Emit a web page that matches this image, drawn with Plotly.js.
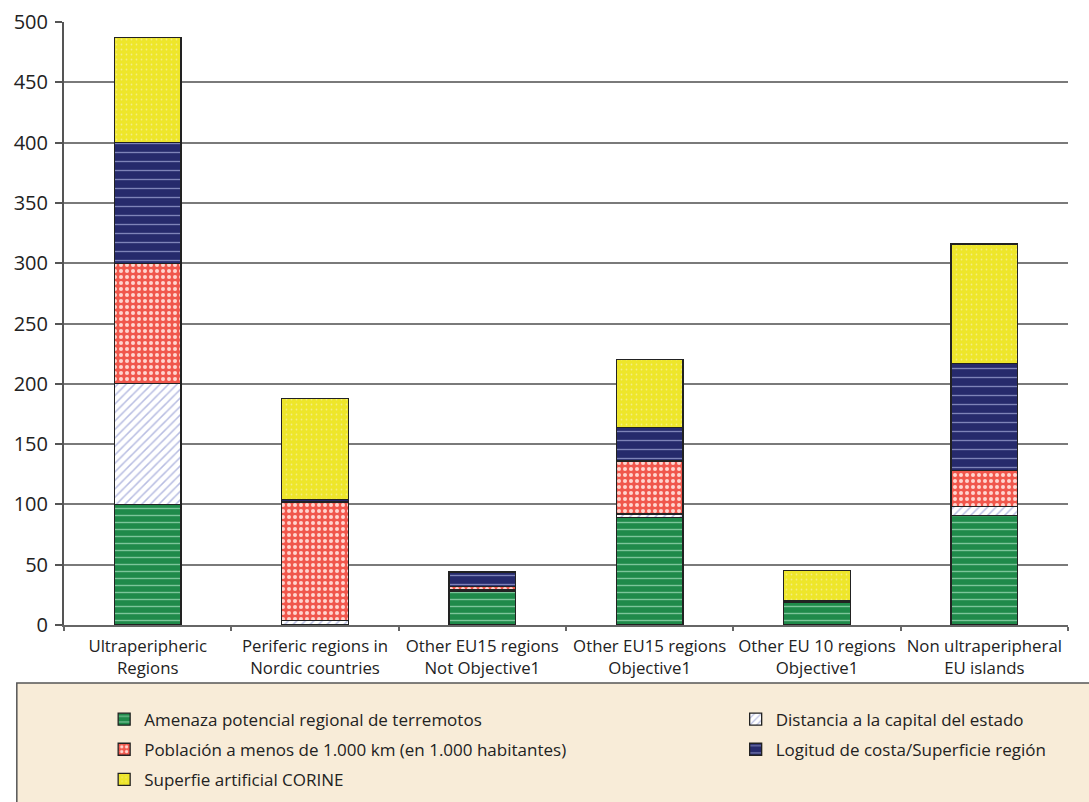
<!DOCTYPE html>
<html>
<head>
<meta charset="utf-8">
<script src="https://cdn.plot.ly/plotly-3.0.1.min.js"></script>
<style>html,body{margin:0;padding:0;background:#fff;}#chart{width:1089px;height:802px;}</style>
</head>
<body>
<div id="chart"></div>
<script>
const categories = ["Ultraperipheric<br>Regions", "Periferic regions in<br>Nordic countries", "Other EU15 regions<br>Not Objective1", "Other EU15 regions<br>Objective1", "Other EU 10 regions<br>Objective1", "Non ultraperipheral<br>EU islands"];
const amenaza    = [100, 0, 28, 89, 19, 91];
const distancia  = [100, 4, 1, 3, 0, 7];
const poblacion  = [100, 98, 3, 44, 0, 30];
const logitud    = [100, 2, 12, 28, 1, 89];
const superficie = [87, 84, 0, 56, 25, 99];
const seriesNames = ["Amenaza potencial regional de terremotos", "Distancia a la capital del estado", "Población a menos de 1.000 km (en 1.000 habitantes)", "Logitud de costa/Superficie región", "Superfie artificial CORINE"];

const outline = {color: '#222', width: 1.3};
function bar(name, y, legend, color, pattern) {
  return {type: 'bar', name: name, x: categories, y: y, legend: legend, legendgroup: name,
    marker: {color: color, line: outline, pattern: pattern}, width: 0.4, hoverinfo: 'y+name'};
}
const traces = [
  bar(seriesNames[0], amenaza, 'legend', '#1f8a4a', {shape: '-', bgcolor: '#1f8a4a', fgcolor: '#7cc59a', size: 7, solidity: 0.2}),
  bar(seriesNames[1], distancia, 'legend2', '#ffffff', {shape: '/', bgcolor: '#ffffff', fgcolor: '#b8bde2', size: 6, solidity: 0.25}),
  bar(seriesNames[2], poblacion, 'legend', '#f0574c', {shape: '.', bgcolor: '#f0574c', fgcolor: '#ffd6cf', size: 6, solidity: 0.35}),
  bar(seriesNames[3], logitud, 'legend2', '#262a6c', {shape: '-', bgcolor: '#262a6c', fgcolor: '#7e83b8', size: 9, solidity: 0.15}),
  bar(seriesNames[4], superficie, 'legend', '#eee62a', {shape: '.', bgcolor: '#eee62a', fgcolor: '#f4ee80', size: 5, solidity: 0.1})
];

const font = "'Open Sans', 'Noto Sans', sans-serif";
const legendBase = {orientation: 'v', yanchor: 'top', xanchor: 'left', y: -0.127,
  traceorder: 'grouped', tracegroupgap: 5, bgcolor: 'rgba(0,0,0,0)',
  font: {family: font, size: 17, color: '#222'}, itemwidth: 30};
const layout = {
  width: 1089, height: 802,
  margin: {l: 64, r: 21, t: 22, b: 177, autoexpand: false},
  barmode: 'stack',
  paper_bgcolor: '#ffffff', plot_bgcolor: '#ffffff',
  font: {family: font, size: 17, color: '#222'},
  showlegend: true,
  legend: Object.assign({}, legendBase, {x: 0.04}),
  legend2: Object.assign({}, legendBase, {x: 0.669}),
  xaxis: {type: 'category', showline: true, linecolor: '#666', linewidth: 2,
    ticks: 'outside', tickson: 'boundaries', ticklen: 4, tickcolor: '#666', tickwidth: 2,
    tickangle: 0, automargin: false, ticklabelstandoff: 5,
    showgrid: false, tickfont: {size: 16.8, color: '#222'}, fixedrange: true},
  yaxis: {range: [0, 500], dtick: 50, showline: true, linecolor: '#555', linewidth: 2,
    ticks: 'outside', ticklen: 7, tickcolor: '#555', tickwidth: 2, automargin: false,
    ticklabelstandoff: 3,
    showgrid: true, gridcolor: '#7a7a7a', gridwidth: 2, zeroline: false,
    tickfont: {size: 20, color: '#222'}, fixedrange: true},
  shapes: [{type: 'rect', xref: 'paper', yref: 'paper', x0: -0.047, x1: 1.03, y0: -0.0962, y1: -0.32,
    fillcolor: '#f8ecd8', line: {color: '#555', width: 1.5}, layer: 'below'}]
};
Plotly.newPlot('chart', traces, layout, {displayModeBar: false, staticPlot: true});
</script>
</body>
</html>
